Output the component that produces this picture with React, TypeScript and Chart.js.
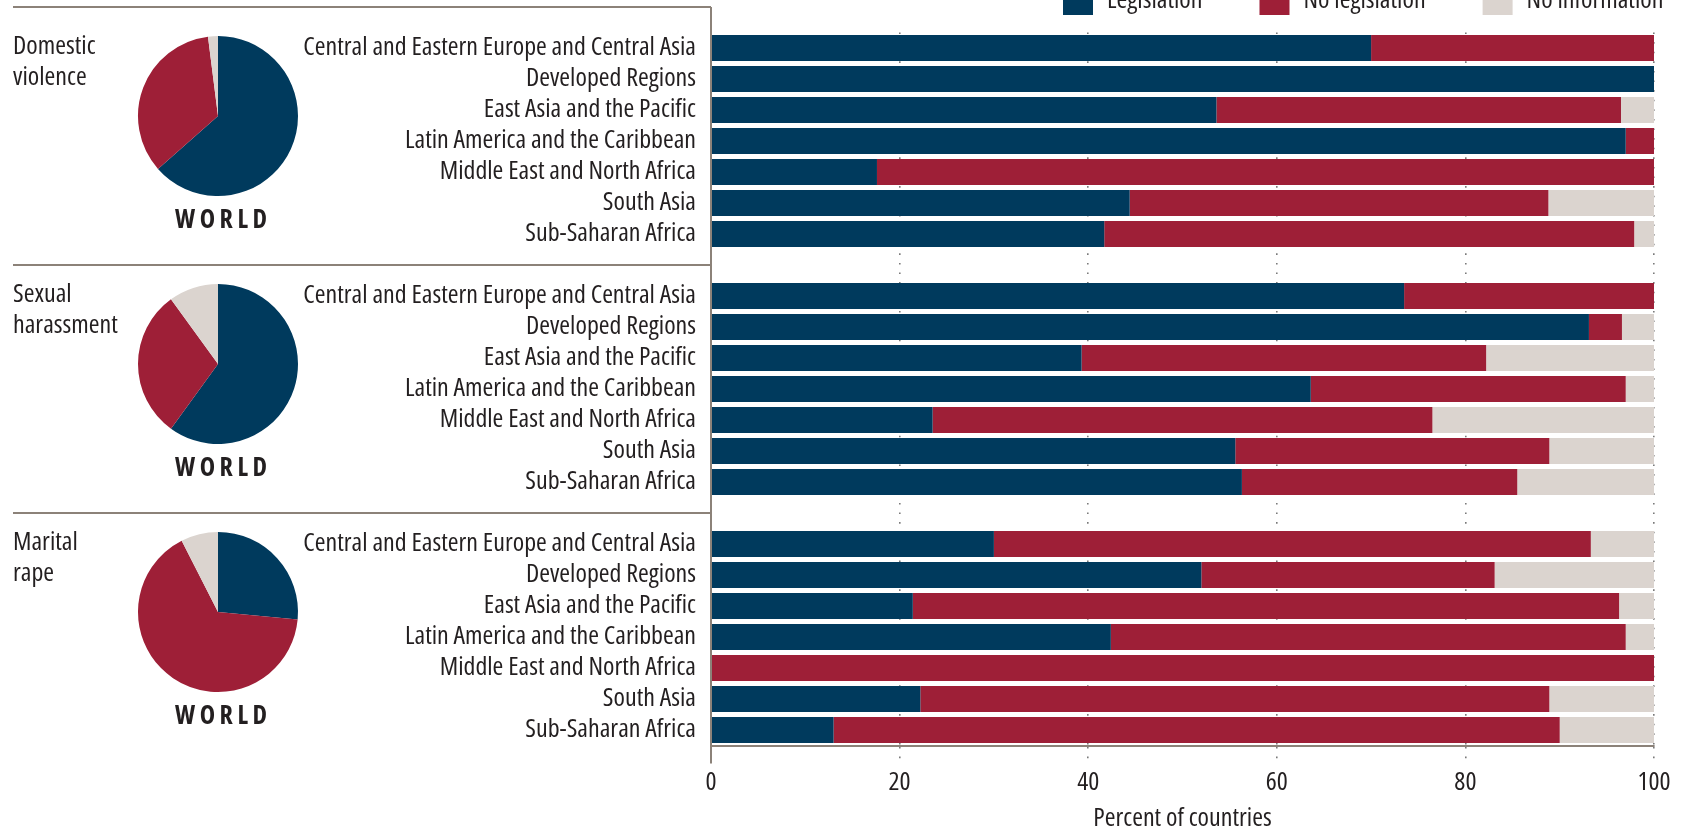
import React, { useEffect, useRef } from "react";
import { Chart, registerables } from "chart.js";

Chart.register(...registerables);

// ---------- data ----------
const regions = [
  "Central and Eastern Europe and Central Asia",
  "Developed Regions",
  "East Asia and the Pacific",
  "Latin America and the Caribbean",
  "Middle East and North Africa",
  "South Asia",
  "Sub-Saharan Africa",
];
const topicTitles = [
  ["Domestic", "violence"],
  ["Sexual", "harassment"],
  ["Marital", "rape"],
];
const seriesNames = ["Legislation", "No legislation", "No information"];
const seriesColors = ["#003a5d", "#9e1f37", "#dbd4cf"];

const domesticLeg = [70, 100, 53.6, 97, 17.6, 44.4, 41.7];
const domesticNoLeg = [30, 0, 42.9, 3, 82.4, 44.4, 56.2];
const domesticNoInfo = [0, 0, 3.5, 0, 0, 11.2, 2.1];

const harassLeg = [73.5, 93.1, 39.3, 63.6, 23.5, 55.6, 56.3];
const harassNoLeg = [26.5, 3.5, 42.9, 33.4, 53, 33.3, 29.2];
const harassNoInfo = [0, 3.4, 17.8, 3, 23.5, 11.1, 14.5];

const maritalLeg = [30, 52, 21.4, 42.4, 0, 22.2, 13];
const maritalNoLeg = [63.3, 31.1, 74.9, 54.6, 100, 66.7, 77];
const maritalNoInfo = [6.7, 16.9, 3.7, 3, 0, 11.1, 10];

const worldDomestic = [63.5, 34.5, 2];
const worldHarass = [60, 30, 10];
const worldMarital = [26.5, 66, 7.5];

const xTickValues = [0, 20, 40, 60, 80, 100];
const axisTitle = "Percent of countries";
const worldLabel = "WORLD";

// ---------- derived tables ----------
const groupsLeg = [domesticLeg, harassLeg, maritalLeg];
const groupsNoLeg = [domesticNoLeg, harassNoLeg, maritalNoLeg];
const groupsNoInfo = [domesticNoInfo, harassNoInfo, maritalNoInfo];
const worldValues = [worldDomestic, worldHarass, worldMarital];

function withGaps(groups: number[][]): (number | null)[] {
  const out: (number | null)[] = [];
  groups.forEach((g, i) => {
    out.push(...g);
    if (i < groups.length - 1) out.push(null);
  });
  return out;
}
const categoryLabels: string[] = [];
topicTitles.forEach((_, i) => {
  categoryLabels.push(...regions);
  if (i < topicTitles.length - 1) categoryLabels.push("");
});
const groupSize = regions.length + 1;

// ---------- font selection (prefer a condensed face) ----------
type FontPick = { stretch: string; family: string; size: number };
function pickFont(): FontPick {
  const cands = [
    { s: "", f: "'Roboto Condensed'" },
    { s: "", f: "'Liberation Sans Narrow'" },
    { s: "", f: "'Arial Narrow'" },
    { s: "", f: "'DejaVu Sans Condensed'" },
    { s: "", f: "'Noto Sans Condensed'" },
    { s: "", f: "'Open Sans Condensed'" },
    { s: "condensed", f: "'Noto Sans'" },
    { s: "condensed", f: "Roboto" },
    { s: "condensed", f: "'DejaVu Sans'" },
    { s: "condensed", f: "'Open Sans'" },
    { s: "condensed", f: "'Liberation Sans'" },
    { s: "", f: "'Liberation Sans'" },
    { s: "", f: "Roboto" },
  ];
  let best = { s: "", f: "'Liberation Sans'" };
  let bestW = Infinity;
  try {
    const c = document.createElement("canvas").getContext("2d") as CanvasRenderingContext2D;
    for (const cand of cands) {
      c.font = "10px monospace";
      c.font = `${cand.s ? cand.s + " " : ""}24px ${cand.f}, monospace`;
      const w = c.measureText(regions[0]).width;
      if (w < bestW - 0.5) {
        bestW = w;
        best = cand;
      }
    }
  } catch (e) {
    bestW = 481;
  }
  const size = Math.max(18, Math.min(26, (24 * 393) / bestW));
  return { stretch: best.s, family: `${best.f}, 'Liberation Sans', sans-serif`, size };
}

const TEXT = "#231f20";
const RULE = "#8c8279";
const W = 1683;
const H = 830;

function makeDecor(fp: FontPick) {
  const fstr = (bold: boolean, size: number) =>
    `${bold ? "bold " : ""}${fp.stretch ? fp.stretch + " " : ""}${size}px ${fp.family}`;
  return {
    id: "decor",
    afterDraw(chart: any) {
      const ctx = chart.ctx;
      const y = chart.scales.y;
      const x = chart.scales.x;
      const area = chart.chartArea;
      const axisX = x.getPixelForValue(0);
      ctx.save();
      // rules
      ctx.strokeStyle = RULE;
      ctx.lineWidth = 2;
      ctx.beginPath();
      ctx.moveTo(13, 7);
      ctx.lineTo(axisX, 7);
      ctx.moveTo(axisX, 7);
      ctx.lineTo(axisX, area.bottom + 18);
      for (let g = 1; g < topicTitles.length; g++) {
        const yy = y.getPixelForValue(g * groupSize - 1);
        ctx.moveTo(13, yy);
        ctx.lineTo(axisX, yy);
      }
      ctx.stroke();

      // topic titles
      ctx.fillStyle = TEXT;
      ctx.font = fstr(false, fp.size);
      ctx.textAlign = "left";
      ctx.textBaseline = "middle";
      topicTitles.forEach((lines, g) => {
        lines.forEach((t, k) => {
          ctx.fillText(t, 13, y.getPixelForValue(g * groupSize + k) - 1);
        });
      });

      // WORLD labels under pies
      ctx.font = fstr(true, fp.size);
      const chars = worldLabel.split("");
      const widths = chars.map((c) => ctx.measureText(c).width);
      const sum = widths.reduce((a, b) => a + b, 0);
      const spacing = Math.max(2, Math.min(10, (92 - sum) / (chars.length - 1)));
      const total = sum + spacing * (chars.length - 1);
      topicTitles.forEach((_, g) => {
        const cy = y.getPixelForValue(g * groupSize) + 173;
        let cx = 221 - total / 2;
        chars.forEach((c, i) => {
          ctx.fillText(c, cx, cy);
          cx += widths[i] + spacing;
        });
      });

      // legend (partly above the page edge)
      ctx.font = fstr(false, fp.size);
      ctx.textBaseline = "alphabetic";
      let lx = 1063;
      chart.data.datasets.forEach((ds: any) => {
        ctx.fillStyle = ds.backgroundColor;
        ctx.fillRect(lx, -8, 30, 23);
        lx += 30 + 14;
        ctx.fillStyle = TEXT;
        ctx.fillText(ds.label, lx, 8);
        lx += ctx.measureText(ds.label).width + 57;
      });
      ctx.restore();
    },
  };
}

function BarPanel() {
  const ref = useRef<HTMLCanvasElement | null>(null);
  useEffect(() => {
    if (!ref.current) return;
    const fp = pickFont();
    const tickFont: any = { family: fp.family, size: fp.size, weight: fp.stretch || undefined };
    const data = [groupsLeg, groupsNoLeg, groupsNoInfo].map((g, i) => ({
      label: seriesNames[i],
      data: withGaps(g),
      backgroundColor: seriesColors[i],
      borderWidth: 0,
      barPercentage: 0.84,
      categoryPercentage: 1,
    }));
    const chart = new Chart(ref.current, {
      type: "bar",
      data: { labels: categoryLabels, datasets: data as any },
      options: {
        indexAxis: "y",
        responsive: false,
        animation: false,
        events: [],
        layout: { padding: { top: 32.5, right: 29, left: 0, bottom: 0 } },
        plugins: { legend: { display: false }, tooltip: { enabled: false } },
        scales: {
          x: {
            type: "linear",
            stacked: true,
            min: 0,
            max: 100,
            afterBuildTicks: (s: any) => {
              s.ticks = xTickValues.map((v) => ({ value: v }));
            },
            afterFit: (s: any) => {
              s.height = H - 745.5;
            },
            ticks: {
              font: tickFont,
              color: TEXT,
              padding: 4,
              maxRotation: 0,
            },
            grid: {
              color: "#7a7a7a",
              lineWidth: 1.6,
              drawTicks: true,
              tickLength: 18,
              tickColor: "#7a7a7a",
              tickWidth: 1.6,
              tickBorderDash: [1.6, 8],
            },
            border: { display: true, color: RULE, width: 2, dash: [1.6, 8] },
            title: {
              display: true,
              text: axisTitle,
              color: TEXT,
              font: { ...tickFont, lineHeight: 0.84 },
              padding: 0,
            },
          },
          y: {
            type: "category",
            stacked: true,
            afterFit: (s: any) => {
              s.width = 711;
            },
            ticks: {
              font: tickFont,
              color: TEXT,
              padding: 15,
              autoSkip: false,
            },
            grid: { display: false, drawTicks: false },
            border: { display: false },
          },
        },
      },
      plugins: [makeDecor(fp)],
    });
    return () => chart.destroy();
  }, []);
  return (
    <canvas
      ref={ref}
      width={W}
      height={H}
      style={{ position: "absolute", left: 0, top: 0, width: W, height: H }}
    />
  );
}

function WorldPie({ values, top }: { values: number[]; top: number }) {
  const ref = useRef<HTMLCanvasElement | null>(null);
  useEffect(() => {
    if (!ref.current) return;
    const chart = new Chart(ref.current, {
      type: "pie",
      data: {
        labels: seriesNames,
        datasets: [{ data: values, backgroundColor: seriesColors, borderWidth: 0 }],
      },
      options: {
        responsive: false,
        animation: false,
        events: [],
        layout: { padding: 5 },
        plugins: { legend: { display: false }, tooltip: { enabled: false } },
      },
    });
    return () => chart.destroy();
  }, [values]);
  return (
    <canvas
      ref={ref}
      width={170}
      height={170}
      style={{ position: "absolute", left: 218 - 85, top, width: 170, height: 170 }}
    />
  );
}

export default function App() {
  const pieCenters = [116, 364, 612];
  return (
    <div
      style={{
        position: "fixed",
        left: 0,
        top: 0,
        width: W,
        height: H,
        overflow: "hidden",
        background: "#ffffff",
      }}
    >
      <BarPanel />
      {worldValues.map((v, i) => (
        <WorldPie key={i} values={v} top={pieCenters[i] - 85} />
      ))}
    </div>
  );
}
